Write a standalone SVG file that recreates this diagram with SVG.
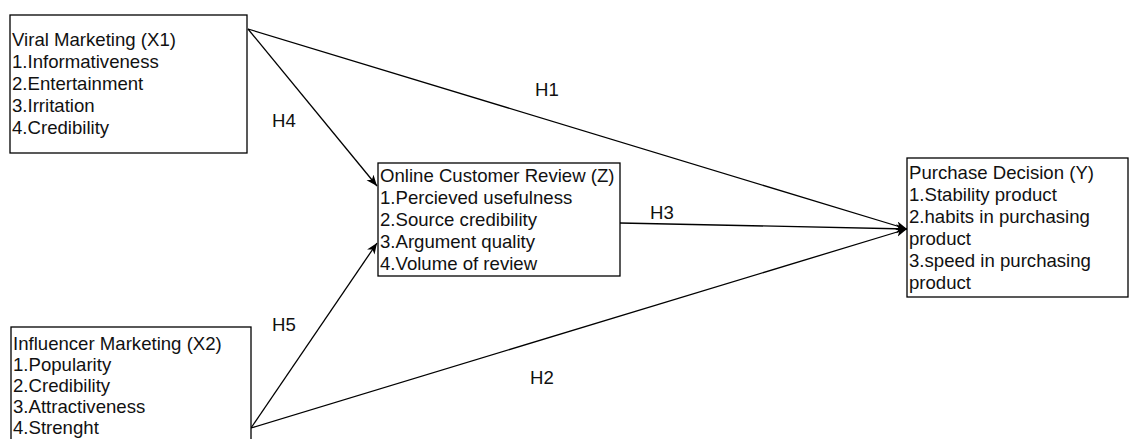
<svg xmlns="http://www.w3.org/2000/svg" width="1131" height="439" viewBox="0 0 1131 439">
<style>
.box{fill:#fff;stroke:#000;stroke-width:1.3}
.t{font-family:"Liberation Sans",Arial,sans-serif;font-size:18.6px;fill:#111}
.edge{fill:none;stroke:#000;stroke-width:1.3}
</style>
<defs>
<marker id="arr" markerUnits="userSpaceOnUse" markerWidth="12" markerHeight="10" refX="11" refY="4.5" orient="auto">
<path d="M0,0 L11,4.5 L0,9 L3,4.5 z" fill="#000"/>
</marker>
</defs>
<rect width="1131" height="439" fill="#fff"/>
<g id="connectors">
<line class="edge" x1="248" y1="29" x2="907" y2="229" marker-end="url(#arr)"/>
<line class="edge" x1="248" y1="29" x2="377" y2="186" marker-end="url(#arr)"/>
<line class="edge" x1="251" y1="428" x2="377" y2="243" marker-end="url(#arr)"/>
<line class="edge" x1="251" y1="428" x2="907" y2="229" marker-end="url(#arr)"/>
<line class="edge" x1="620" y1="223" x2="907" y2="229" marker-end="url(#arr)"/>
<text class="t" x="535" y="96">H1</text>
<text class="t" x="530" y="384">H2</text>
<text class="t" x="650" y="219">H3</text>
<text class="t" x="272" y="127">H4</text>
<text class="t" x="272" y="331">H5</text>
</g>
<g id="x1">
<rect class="box" x="10" y="15" width="237" height="138"/>
<text class="t" x="12" y="46">Viral Marketing (X1)</text>
<text class="t" x="12" y="68">1.Informativeness</text>
<text class="t" x="12" y="90">2.Entertainment</text>
<text class="t" x="12" y="112">3.Irritation</text>
<text class="t" x="12" y="134">4.Credibility</text>
</g>
<g id="x2">
<rect class="box" x="11" y="327" width="240" height="130"/>
<text class="t" x="13" y="350">Influencer Marketing (X2)</text>
<text class="t" x="13" y="371">1.Popularity</text>
<text class="t" x="13" y="392">2.Credibility</text>
<text class="t" x="13" y="413">3.Attractiveness</text>
<text class="t" x="13" y="434">4.Strenght</text>
</g>
<g id="z">
<rect class="box" x="378" y="163" width="242" height="113"/>
<text class="t" x="380" y="182">Online Customer Review (Z)</text>
<text class="t" x="380" y="204">1.Percieved usefulness</text>
<text class="t" x="380" y="226">2.Source credibility</text>
<text class="t" x="380" y="248">3.Argument quality</text>
<text class="t" x="380" y="270">4.Volume of review</text>
</g>
<g id="y">
<rect class="box" x="907" y="158" width="221" height="139"/>
<text class="t" x="909" y="179">Purchase Decision (Y)</text>
<text class="t" x="909" y="201">1.Stability product</text>
<text class="t" x="909" y="223">2.habits in purchasing</text>
<text class="t" x="909" y="245">product</text>
<text class="t" x="909" y="267">3.speed in purchasing</text>
<text class="t" x="909" y="289">product</text>
</g>
</svg>
